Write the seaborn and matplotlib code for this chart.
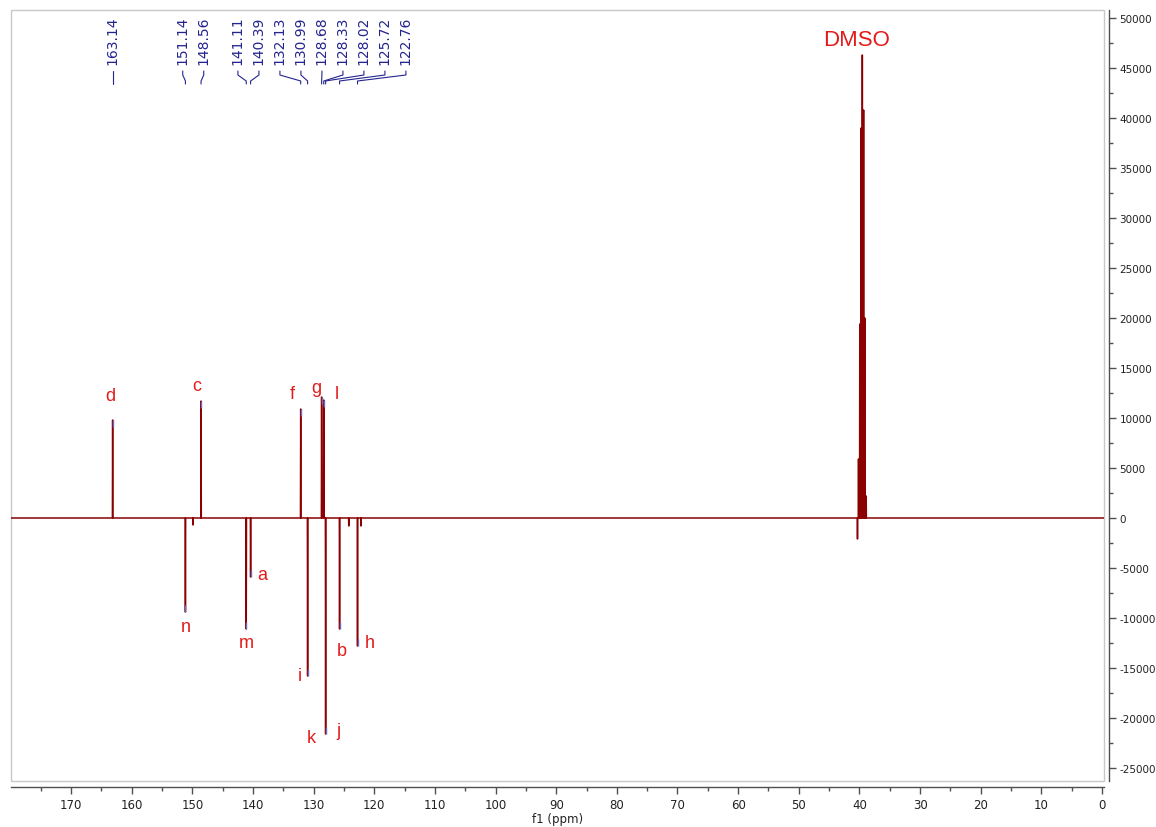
import numpy as np
import pandas as pd
import matplotlib
matplotlib.use("Agg")
import matplotlib.pyplot as plt
import matplotlib.transforms as mtransforms
from matplotlib.patches import Rectangle
from matplotlib.ticker import MultipleLocator, FuncFormatter
import seaborn as sns

# ---- picked peaks (ppm, intensity) ----
peak_ppm = [163.14, 151.14, 148.56, 141.11, 140.39, 132.13, 130.99,
            128.68, 128.33, 128.02, 125.72, 122.76]
peak_height = [9800, -9400, 11700, -11100, -5900, 10900, -15800,
               12100, 11800, -21600, -11100, -12800]

# ---- small unlabelled signals ----
minor_ppm = [149.90, 124.20, 122.20, 40.32]
minor_height = [-700, -800, -800, -2100]

# ---- DMSO-d6 septet ----
dmso_ppm = [40.15, 39.94, 39.73, 39.52, 39.31, 39.10, 38.89]
dmso_height = [5900, 19400, 39000, 46300, 40800, 20000, 2200]

# ---- carbon assignments ----
assign_ppm = [163.14, 148.56, 132.13, 128.68, 128.33, 151.14, 140.39,
              141.11, 130.99, 128.02, 128.02, 125.72, 122.76]
assign_letter = ["d", "c", "f", "g", "l", "n", "a", "m", "i", "k", "j", "b", "h"]

# ---- axis ticks ----
x_major = 10
x_minor = 5
y_major = 5000
y_minor = 2500

# ---------------------------------------------------------------------
sns.set_style("ticks")
plt.rcParams["font.family"] = ["DejaVu Sans"]
plt.rcParams["axes.unicode_minus"] = False

W, H, DPI = 1156, 828, 100
fig = plt.figure(figsize=(W / DPI, H / DPI), dpi=DPI)
ax_l, ax_t, ax_r, ax_b = 11, 11, 1104, 782
ax = fig.add_axes([ax_l / W, 1 - ax_b / H, (ax_r - ax_l) / W, (ax_b - ax_t) / H])
ax_h_px = ax_b - ax_t

XMAX, XMIN = 179.9, -0.33
YMIN, YMAX = -26300, 50800

# spectrum trace: each line drawn as a narrow spike from the baseline
lines = sorted(zip(peak_ppm + minor_ppm + dmso_ppm,
                   peak_height + minor_height + dmso_height),
               key=lambda t: -t[0])
hw = 0.04
xs, ys = [XMAX], [0.0]
for p, h in lines:
    xs += [p + hw, p, p - hw]
    ys += [0.0, h, 0.0]
xs.append(XMIN)
ys.append(0.0)
spec = pd.DataFrame({"ppm": xs, "intensity": ys})

line_color = "#8b0000"
sns.lineplot(data=spec, x="ppm", y="intensity", sort=False, estimator=None,
             color=line_color, lw=1.1, ax=ax, zorder=3)

# peak-pick markers at the tips
tip_len = 700
for p, h in zip(peak_ppm, peak_height):
    s = np.sign(h)
    ax.plot([p, p], [h - s * tip_len, h], color="#6b6bc4", lw=1.0,
            solid_capstyle="butt", zorder=4)

ax.set_xlim(XMAX, XMIN)
ax.set_ylim(YMIN, YMAX)

# ---- peak value labels along the top ----
px_per_ppm = (ax_r - ax_l) / (XMAX - XMIN)
gap = 21.0 / px_per_ppm

order = sorted(range(len(peak_ppm)), key=lambda i: -peak_ppm[i])
groups = []
for i in order:
    if groups and peak_ppm[groups[-1][-1]] - peak_ppm[i] < gap:
        groups[-1].append(i)
    else:
        groups.append([i])

label_pos = {}
prev_end = None
for g in groups:
    centre = np.mean([peak_ppm[i] for i in g])
    start = centre + gap * (len(g) - 1) / 2
    if prev_end is not None and start > prev_end - gap:
        start = prev_end - gap
    for j, i in enumerate(g):
        label_pos[i] = start - j * gap
    prev_end = start - (len(g) - 1) * gap


def yfrac(px_from_top):
    return 1 - px_from_top / ax_h_px


blend = mtransforms.blended_transform_factory(ax.transData, ax.transAxes)
label_color = "#24248f"
for i, p in enumerate(peak_ppm):
    lx = label_pos[i]
    ax.text(lx, yfrac(54), f"{p:.2f}", rotation=90, ha="center", va="bottom",
            fontsize=10, color=label_color, transform=blend, clip_on=False)
    ax.plot([lx, lx, p, p], [yfrac(61), yfrac(65), yfrac(71), yfrac(74)],
            color=label_color, lw=0.8, transform=blend, clip_on=False)

# ---- assignment letters (offsets in pixels from the peak tip) ----
letter_offset = {
    "d": (-2, 24), "c": (-4, 15), "f": (-8, 15), "g": (-5, 9), "l": (13, 6),
    "n": (0, -14), "a": (12, 2), "m": (0, -13), "i": (-8, 0), "k": (-14, -4),
    "j": (13, 3), "b": (2, -21), "h": (12, 3),
}
height_of = dict(zip(peak_ppm, peak_height))
red = "#e31b1b"
for p, letter in zip(assign_ppm, assign_letter):
    ax.annotate(letter, xy=(p, height_of[p]), xytext=letter_offset[letter],
                textcoords="offset pixels", ha="center", va="center",
                fontsize=13, color=red, family=["Liberation Sans", "DejaVu Sans"])

top_dmso = int(np.argmax(dmso_height))
ax.annotate("DMSO", xy=(dmso_ppm[top_dmso], dmso_height[top_dmso]),
            xytext=(-6, 15), textcoords="offset pixels", ha="center",
            va="center", fontsize=16, color=red,
            family=["Liberation Sans", "DejaVu Sans"])

# ---- frame and axes ----
ax.add_patch(Rectangle((0, 0), 1, 1, transform=ax.transAxes, fill=False,
                       ec="#c8c8c8", lw=1.0, clip_on=False, zorder=0))
for side in ("top", "left"):
    ax.spines[side].set_visible(False)
axis_color = "#505050"
ax.spines["bottom"].set_position(("outward", 4.3))
ax.spines["right"].set_position(("outward", 3.6))
ax.spines["right"].set_visible(True)
for side in ("bottom", "right"):
    ax.spines[side].set_color(axis_color)
    ax.spines[side].set_linewidth(1.0)

ax.yaxis.tick_right()
ax.xaxis.set_major_locator(MultipleLocator(x_major))
ax.xaxis.set_minor_locator(MultipleLocator(x_minor))
ax.yaxis.set_major_locator(MultipleLocator(y_major))
ax.yaxis.set_minor_locator(MultipleLocator(y_minor))
ax.xaxis.set_major_formatter(FuncFormatter(lambda v, _: f"{int(round(v))}"))
ax.yaxis.set_major_formatter(FuncFormatter(lambda v, _: f"{int(round(v))}"))

ax.tick_params(axis="x", which="major", direction="out", length=5, width=1,
               color=axis_color, labelcolor="#222222", labelsize=8.5, pad=3)
ax.tick_params(axis="x", which="minor", direction="out", length=3, width=1,
               color=axis_color)
ax.tick_params(axis="y", which="major", direction="out", length=5, width=1,
               color=axis_color, labelcolor="#222222", labelsize=7.5, pad=2.5,
               right=True, left=False, labelright=True, labelleft=False)
ax.tick_params(axis="y", which="minor", direction="out", length=3, width=1,
               color=axis_color, right=True, left=False)

ax.set_xlabel("f1 (ppm)", fontsize=8.5, color="#222222", labelpad=1)
ax.set_ylabel("")

fig.savefig("out.png", dpi=DPI, facecolor="white")
